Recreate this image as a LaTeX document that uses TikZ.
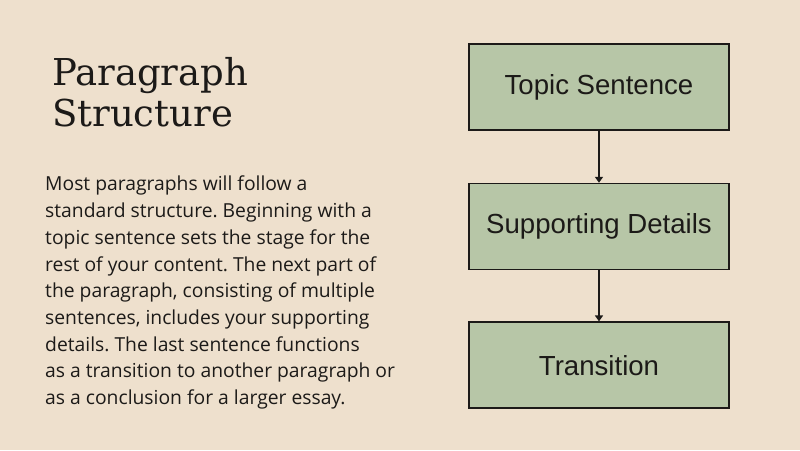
\documentclass[tikz,border=0pt]{standalone}
\usepackage{fontspec}
\usepackage{xcolor}
\usetikzlibrary{positioning,arrows.meta}

\newfontfamily\titlefont{DejaVu Serif}
\newfontfamily\bodyfont{Open Sans}
\newfontfamily\boxfont{Liberation Sans}

\definecolor{paper}{RGB}{238,224,205}
\definecolor{sage}{RGB}{183,198,167}
\definecolor{ink}{RGB}{28,26,24}

\tikzset{
  titletext/.style={anchor=base west, align=left, text=ink,
    font=\titlefont\fontsize{37}{41}\selectfont, inner sep=0pt},
  bodytext/.style={anchor=north west, align=left, text=ink,
    font=\bodyfont\fontsize{19.3}{26.7}\selectfont\frenchspacing, inner sep=0pt},
  stepbox/.style={draw=ink, line width=1.6pt, fill=sage, text=ink,
    minimum width=260pt, minimum height=86pt,
    font=\boxfont\fontsize{27.6}{30}\selectfont},
  flow/.style={draw=ink, line width=1.6pt, -{Triangle[width=8pt,length=6pt]}}
}

\begin{document}
\begin{tikzpicture}[x=1pt, y=-1pt]
\useasboundingbox (0,0) rectangle (800,450);
\fill[paper] (0,0) rectangle (800,450);

\node[titletext] (title) at (52,126) {Paragraph\\Structure};

\node[bodytext] (body) at (45,176) {Most paragraphs will follow a\\
standard structure. Beginning with a\\
topic sentence sets the stage for the\\
rest of your content. The next part of\\
the paragraph, consisting of multiple\\
sentences, includes your supporting\\
details. The last sentence functions\\
as a transition to another paragraph or\\
as a conclusion for a larger essay.};

\node[stepbox] (topic) at (599,87) {Topic Sentence};
\node[stepbox, below=52pt of topic] (details) {Supporting Details};
\node[stepbox, below=51pt of details] (transition) {Transition};

\draw[flow] (topic) -- (details);
\draw[flow] (details) -- (transition);
\end{tikzpicture}
\end{document}
